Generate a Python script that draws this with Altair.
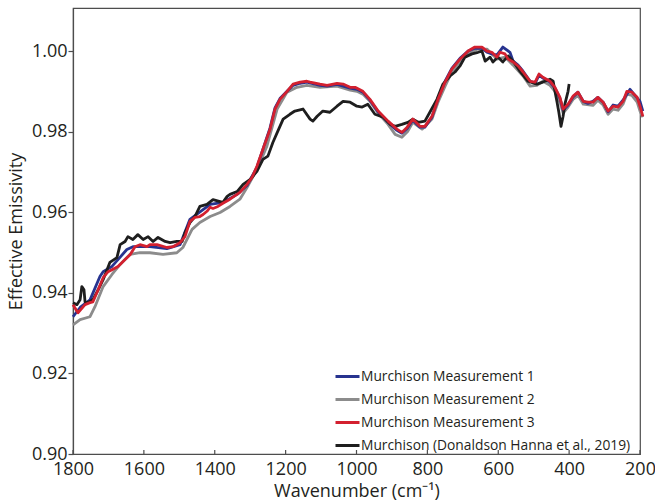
import altair as alt
import pandas as pd

# Murchison Measurement 1 (blue)
wn_m1 = [1800,1780,1752,1724,1715,1690,1648,1631,1583,1535,1498,1470,1413,1377,1337,1309,1281,1264,1244,1230,
         1216,1196,1179,1159,1140,1103,1083,1055,1018,999,982,962,939,911,886,872,857,841,821,807,
         787,770,750,731,708,685,666,646,632,618,604,587,567,558,544,530,510,496,485,474,
         454,440,426,417,403,389,375,360,347,333,319,304,290,276,262,248,228,200,192]
val_m1 = [0.9341,0.9364,0.9383,0.9441,0.9453,0.9466,0.9508,0.9515,0.9515,0.9510,0.9520,0.9583,0.9620,0.9625,0.9645,0.9667,0.9712,0.9757,0.9810,0.9860,
          0.9883,0.9901,0.9916,0.9921,0.9924,0.9916,0.9914,0.9918,0.9909,0.9906,0.9899,0.9879,0.9850,0.9824,0.9804,0.9797,0.9809,0.9829,0.9812,0.9812,
          0.9837,0.9883,0.9926,0.9958,0.9983,1.0001,1.0008,1.0008,0.9998,0.9994,0.9991,1.0011,0.9998,0.9976,0.9966,0.9951,0.9926,0.9921,0.9941,0.9934,
          0.9924,0.9909,0.9884,0.9854,0.9867,0.9887,0.9899,0.9876,0.9871,0.9876,0.9886,0.9874,0.9850,0.9867,0.9864,0.9879,0.9906,0.9876,0.9852]

# Murchison Measurement 2 (gray)
wn_m2 = [1800,1780,1752,1738,1715,1690,1667,1639,1611,1583,1546,1507,1490,1464,1442,1413,1385,1357,1329,1309,
         1281,1253,1224,1196,1168,1140,1103,1055,1018,999,982,962,939,911,891,872,855,841,815,787,
         770,750,731,708,685,657,632,604,581,558,530,510,491,474,454,440,426,417,403,389,
         375,360,333,319,304,290,276,262,248,237,223,208,200,192]
val_m2 = [0.9321,0.9334,0.9341,0.9366,0.9416,0.9446,0.9471,0.9496,0.9500,0.9500,0.9496,0.9500,0.9513,0.9558,0.9575,0.9590,0.9600,0.9615,0.9633,0.9662,
          0.9707,0.9764,0.9857,0.9899,0.9911,0.9916,0.9911,0.9914,0.9904,0.9901,0.9894,0.9876,0.9847,0.9819,0.9794,0.9787,0.9802,0.9824,0.9807,0.9832,
          0.9874,0.9914,0.9949,0.9976,0.9996,1.0006,1.0006,0.9981,0.9986,0.9966,0.9939,0.9914,0.9916,0.9926,0.9916,0.9901,0.9874,0.9847,0.9862,0.9881,
          0.9891,0.9869,0.9866,0.9879,0.9867,0.9844,0.9857,0.9854,0.9869,0.9894,0.9891,0.9874,0.9852,0.9837]

# Murchison Measurement 3 (red)
wn_m3 = [1800,1786,1766,1752,1744,1729,1715,1701,1690,1673,1653,1639,1625,1611,1591,1583,1563,1535,1518,1498,
         1484,1470,1456,1442,1433,1422,1413,1405,1391,1377,1357,1329,1309,1295,1281,1264,1244,1230,1216,1196,
         1179,1159,1140,1131,1103,1083,1055,1038,1018,1004,982,962,939,911,886,872,857,841,821,807,
         787,770,750,731,708,685,666,646,632,618,604,595,581,572,558,544,530,510,496,485,
         474,454,440,426,417,403,389,375,360,347,333,319,304,290,276,262,248,237,223,208,200,192]
val_m3 = [0.9371,0.9351,0.9371,0.9376,0.9378,0.9408,0.9438,0.9453,0.9458,0.9466,0.9483,0.9495,0.9515,0.9520,0.9515,0.9520,0.9520,0.9513,0.9515,0.9525,
          0.9540,0.9578,0.9588,0.9590,0.9595,0.9603,0.9613,0.9610,0.9615,0.9623,0.9633,0.9650,0.9670,0.9687,0.9715,0.9757,0.9807,0.9857,0.9881,0.9901,
          0.9919,0.9924,0.9926,0.9924,0.9919,0.9916,0.9921,0.9919,0.9911,0.9911,0.9901,0.9881,0.9852,0.9827,0.9807,0.9799,0.9812,0.9832,0.9814,0.9814,
          0.9839,0.9881,0.9924,0.9956,0.9981,1.0001,1.0011,1.0011,1.0001,0.9998,0.9986,0.9998,0.9994,0.9981,0.9974,0.9964,0.9949,0.9926,0.9924,0.9944,
          0.9936,0.9926,0.9911,0.9886,0.9857,0.9869,0.9889,0.9899,0.9876,0.9874,0.9874,0.9886,0.9874,0.9852,0.9864,0.9862,0.9876,0.9901,0.9899,0.9886,0.9864,0.9839]

# Murchison (Donaldson Hanna et al., 2019) (black)
wn_dh = [1800,1789,1780,1775,1769,1766,1760,1744,1729,1715,1696,1676,1667,1653,1645,1631,1617,1602,1588,1574,
         1560,1540,1526,1507,1492,1484,1470,1456,1442,1422,1405,1385,1377,1365,1357,1337,1320,1300,1281,1264,
         1250,1236,1222,1207,1188,1174,1151,1131,1123,1111,1095,1075,1055,1038,1018,999,984,968,948,925,
         905,891,872,855,841,826,807,793,773,756,736,722,708,694,674,657,646,637,623,615,
         601,587,572,558,539,516,491,474,454,445,440,434,429,423,417,412,403,400]
val_dh = [0.9376,0.9371,0.9383,0.9416,0.9408,0.9378,0.9376,0.9383,0.9408,0.9433,0.9476,0.9488,0.9520,0.9528,0.9540,0.9533,0.9545,0.9533,0.9540,0.9528,
          0.9538,0.9528,0.9525,0.9528,0.9528,0.9550,0.9575,0.9590,0.9615,0.9620,0.9632,0.9627,0.9625,0.9640,0.9645,0.9652,0.9670,0.9682,0.9702,0.9732,
          0.9740,0.9774,0.9802,0.9832,0.9844,0.9852,0.9857,0.9832,0.9827,0.9839,0.9852,0.9849,0.9864,0.9876,0.9874,0.9864,0.9862,0.9869,0.9844,0.9837,
          0.9819,0.9814,0.9819,0.9824,0.9832,0.9824,0.9827,0.9849,0.9881,0.9919,0.9939,0.9949,0.9964,0.9986,0.9994,0.9998,1.0001,0.9976,0.9986,0.9974,
          0.9986,0.9974,0.9989,0.9976,0.9951,0.9926,0.9919,0.9924,0.9931,0.9926,0.9901,0.9874,0.9849,0.9814,0.9839,0.9869,0.9901,0.9919]

series_names = ["Murchison Measurement 1", "Murchison Measurement 2", "Murchison Measurement 3",
                "Murchison (Donaldson Hanna et al., 2019)"]
series_colors = ["#27338f", "#8c8c8c", "#d3202f", "#1e1e1e"]
x_ticks = [1800, 1600, 1400, 1200, 1000, 800, 600, 400, 200]
y_ticks = [0.90, 0.92, 0.94, 0.96, 0.98, 1.00]

# draw order: gray, blue, black, red
frames = []
for name, wn, val in [(series_names[1], wn_m2, val_m2), (series_names[0], wn_m1, val_m1),
                      (series_names[3], wn_dh, val_dh), (series_names[2], wn_m3, val_m3)]:
    frames.append(pd.DataFrame({"wn": wn, "val": val, "series": name}))
df = pd.concat(frames, ignore_index=True)

FONT = "Open Sans"
TXT = "#231f20"

xscale = alt.Scale(domain=[1800, 200], nice=False, zero=False)
yscale = alt.Scale(domain=[0.90, 1.0108], nice=False, zero=False)

lines = alt.Chart(df).mark_line(strokeWidth=2.8, strokeJoin="round").encode(
    x=alt.X("wn:Q", scale=xscale,
            axis=alt.Axis(values=x_ticks, format="d", title="Wavenumber (cm⁻¹)", tickSize=0,
                          labelFlush=False, labelPadding=6, titlePadding=4, grid=False,
                          labelFont=FONT, titleFont=FONT, labelFontSize=18, titleFontSize=18,
                          labelColor=TXT, titleColor=TXT, titleFontWeight="normal")),
    y=alt.Y("val:Q", scale=yscale,
            axis=alt.Axis(values=y_ticks, format=".2f", title="Effective Emissivity", tickSize=5,
                          labelPadding=1, titlePadding=6, grid=False,
                          labelFont=FONT, titleFont=FONT, labelFontSize=18, titleFontSize=18,
                          labelColor=TXT, titleColor=TXT, titleFontWeight="normal")),
    color=alt.Color("series:N", scale=alt.Scale(domain=series_names, range=series_colors),
                    legend=alt.Legend(title=None, orient="none", legendX=261, legendY=355,
                                      symbolType="stroke", symbolSize=576, symbolStrokeWidth=3,
                                      labelFontSize=13.8, labelFont=FONT, labelColor=TXT,
                                      labelLimit=500, labelOffset=0, rowPadding=2)),
    detail="series:N",
)

tick_df = pd.DataFrame({"wn": x_ticks})
ticks = alt.Chart(tick_df).mark_rule(color="#4d4d4d", strokeWidth=1.2).encode(
    x=alt.X("wn:Q", scale=xscale),
    y=alt.value(446),
    y2=alt.value(442),
)

chart = alt.layer(ticks, lines).properties(
    width=567, height=446,
    background="white",
    autosize=alt.AutoSizeParams(type="none"),
    padding={"left": 73, "top": 8, "right": 15, "bottom": 50},
).configure_view(
    stroke="#4d4d4d", strokeWidth=1.2
).configure_axis(
    domainColor="#4d4d4d", tickColor="#4d4d4d", domainWidth=1.2, tickWidth=1.2,
)

chart.save("out.html", embed_options={"renderer": "svg", "actions": False})
